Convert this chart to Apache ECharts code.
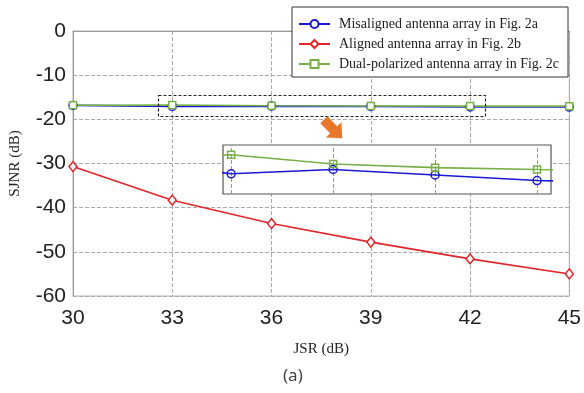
<!DOCTYPE html>
<html><head><meta charset="utf-8">
<script src="https://cdn.jsdelivr.net/npm/echarts@6/dist/echarts.min.js"></script>
<style>html,body{margin:0;padding:0;background:#fff}#c{width:584px;height:393px}</style>
</head><body><div id="c"></div>
<script>
var jsr = [30, 33, 36, 39, 42, 45];
var misaligned = [-16.85, -17.07, -17.0, -17.09, -17.18, -17.22];
var aligned = [-30.7, -38.3, -43.6, -47.8, -51.6, -55.0];
var dualPol = [-16.8, -16.76, -16.91, -16.97, -17.0, -17.02];
var names = ['Misaligned antenna array in Fig. 2a', 'Aligned antenna array in Fig. 2b', 'Dual-polarized antenna array in Fig. 2c'];
var insetTicks = [33, 36, 39, 42];

function pairs(v){ return jsr.map(function(x,i){ return [x, v[i]]; }); }
var BLUE = '#1a1ad6', RED = '#e3262a', GREEN = '#77b046';

// orange arrow (decoration)
function arrowPts(cx, cy){
  var base = [[-13,-5],[1,-5],[1,-11],[13,0],[1,11],[1,5],[-13,5]];
  var c = Math.cos(Math.PI/4), s = Math.sin(Math.PI/4);
  return base.map(function(p){ return [cx + p[0]*c - p[1]*s, cy + p[0]*s + p[1]*c]; });
}

var chart = echarts.init(document.getElementById('c'));
chart.setOption({
  animation: false,
  textStyle: { fontFamily: 'Liberation Sans' },
  grid: [
    { left: 71, right: 14, top: 31, bottom: 97, show: true, borderColor: '#b0b0b0', borderWidth: 1 },
    { left: 223, width: 328, top: 145, height: 49, show: true, borderColor: '#555', borderWidth: 1.2, backgroundColor: '#fff', z: 5 }
  ],
  legend: {
    data: names, orient: 'vertical', left: 292, top: 7, width: 277,
    backgroundColor: '#fff', borderColor: '#333', borderWidth: 1,
    padding: [10, 9, 6, 6], itemGap: 6, itemWidth: 31, itemHeight: 10,
    textStyle: { fontFamily: 'Liberation Serif', fontSize: 14, color: '#222', padding: [0, 0, 0, 4] },
    z: 10
  },
  xAxis: [
    { gridIndex: 0, type: 'value', min: 30, max: 45, interval: 3,
      axisLine: { lineStyle: { color: '#999' } }, axisTick: { show: false },
      axisLabel: { fontSize: 21, color: '#222', margin: 12, fontFamily: 'Liberation Sans' },
      splitLine: { lineStyle: { type: 'dashed', color: '#aaa' } },
      name: 'JSR (dB)', nameLocation: 'middle', nameGap: 46,
      nameTextStyle: { fontFamily: 'Liberation Serif', fontSize: 15, color: '#222' } },
    { gridIndex: 1, type: 'value', min: 32.76, max: 42.41,
      axisLine: { show: false }, axisTick: { show: false }, axisLabel: { show: false }, splitLine: { show: false } }
  ],
  yAxis: [
    { gridIndex: 0, type: 'value', min: -60, max: 0, interval: 10,
      axisLine: { show: true, lineStyle: { color: '#999' } }, axisTick: { show: false },
      axisLabel: { fontSize: 21, color: '#222', margin: 7, fontFamily: 'Liberation Sans' },
      splitLine: { lineStyle: { type: 'dashed', color: '#aaa' } },
      name: 'SJNR (dB)', nameLocation: 'middle', nameGap: 50, nameRotate: 90,
      nameTextStyle: { fontFamily: 'Liberation Serif', fontSize: 15, color: '#222' } },
    { gridIndex: 1, type: 'value', min: -17.4, max: -16.6,
      axisLine: { show: false }, axisTick: { show: false }, axisLabel: { show: false }, splitLine: { show: false } }
  ],
  series: [
    { name: names[0], type: 'line', xAxisIndex: 0, yAxisIndex: 0, data: pairs(misaligned),
      symbol: 'circle', symbolSize: 8, itemStyle: { color: '#fff', borderColor: BLUE, borderWidth: 1.5 },
      lineStyle: { color: BLUE, width: 1.6 }, color: BLUE },
    { name: names[1], type: 'line', xAxisIndex: 0, yAxisIndex: 0, data: pairs(aligned),
      symbol: 'diamond', symbolSize: [8, 10], itemStyle: { color: '#fff', borderColor: RED, borderWidth: 1.5 },
      lineStyle: { color: RED, width: 1.6 }, color: RED },
    { name: names[2], type: 'line', xAxisIndex: 0, yAxisIndex: 0, data: pairs(dualPol),
      symbol: 'rect', symbolSize: 7, itemStyle: { color: '#fff', borderColor: GREEN, borderWidth: 1.5 },
      lineStyle: { color: GREEN, width: 1.6 }, color: GREEN },
    { name: names[0], type: 'line', xAxisIndex: 1, yAxisIndex: 1, data: pairs(misaligned), z: 6,
      symbol: 'circle', symbolSize: 8, itemStyle: { color: 'rgba(255,255,255,0)', borderColor: BLUE, borderWidth: 1.5 },
      lineStyle: { color: BLUE, width: 1.6 },
      markLine: { silent: true, symbol: 'none', label: { show: false },
        lineStyle: { type: 'dashed', color: '#999', width: 1 },
        data: insetTicks.map(function(t){ return { xAxis: t }; }) } },
    { name: names[2], type: 'line', xAxisIndex: 1, yAxisIndex: 1, data: pairs(dualPol), z: 6,
      symbol: 'rect', symbolSize: 7, itemStyle: { color: 'rgba(255,255,255,0)', borderColor: GREEN, borderWidth: 1.5 },
      lineStyle: { color: GREEN, width: 1.6 } }
  ],
  graphic: [
    { type: 'rect', shape: { x: 158.5, y: 95.5, width: 327, height: 21 }, z: 20,
      style: { fill: 'none', stroke: '#222', lineWidth: 1.2, lineDash: [3, 2] } },
    { type: 'polygon', shape: { points: arrowPts(333, 129) }, z: 20, style: { fill: '#e8772a' } },
    { type: 'text', left: 283, top: 368, z: 20,
      style: { text: '(a)', fontFamily: 'Noto Sans', fontSize: 17, fill: '#444' } }
  ]
});
</script></body></html>
